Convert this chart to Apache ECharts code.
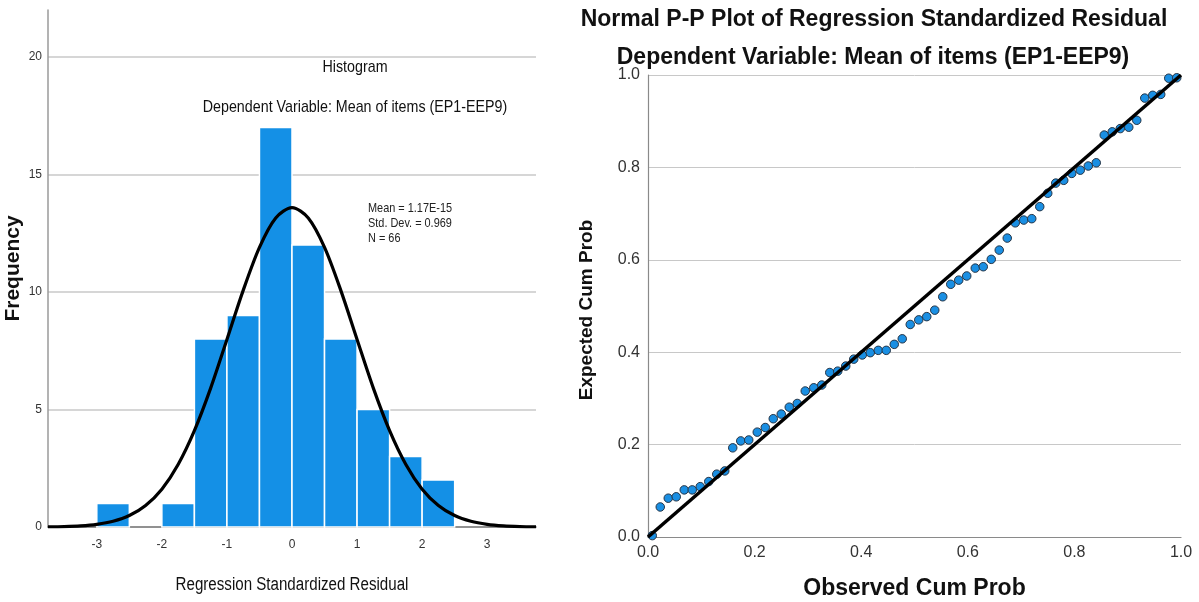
<!DOCTYPE html>
<html><head><meta charset="utf-8">
<script src="https://cdn.jsdelivr.net/npm/echarts@6/dist/echarts.min.js"></script>
<style>html,body{margin:0;padding:0;background:#fff}#c{width:1199px;height:602px}</style>
</head><body><div id="c"></div>
<script>
// ---------- Histogram data ----------
const binStarts = [-3, -2.5, -2, -1.5, -1, -0.5, 0, 0.5, 1, 1.5, 2];
const binWidth = 0.5;
const counts = [1, 0, 1, 8, 9, 17, 12, 8, 5, 3, 2];
// normal curve (Mean = 1.17E-15, Std. Dev. = 0.969, N = 66)
const curveX = [-3.75,-3.5,-3.25,-3,-2.75,-2.5,-2.25,-2,-1.75,-1.5,-1.25,-1,-0.75,-0.5,-0.25,0,
                0.25,0.5,0.75,1,1.25,1.5,1.75,2,2.25,2.5,2.75,3,3.25,3.5,3.75];
const curveY = [0.008,0.020,0.049,0.113,0.242,0.487,0.917,1.61,2.66,4.10,5.91,7.98,10.07,11.90,13.15,13.59,
                13.15,11.90,10.07,7.98,5.91,4.10,2.66,1.61,0.917,0.487,0.242,0.113,0.049,0.020,0.008];
const histXTicks = [-3, -2, -1, 0, 1, 2, 3];
const histYTicks = [0, 5, 10, 15, 20];
const statsLines = ['Mean = 1.17E-15', 'Std. Dev. = 0.969', 'N = 66'];

// ---------- P-P plot data ----------
const observedCumProb = [0.008,0.023,0.038,0.053,0.068,0.083,0.098,0.114,0.129,0.144,
  0.159,0.174,0.189,0.205,0.220,0.235,0.250,0.265,0.280,0.295,
  0.311,0.326,0.341,0.356,0.371,0.386,0.402,0.417,0.432,0.447,
  0.462,0.477,0.492,0.508,0.523,0.538,0.553,0.568,0.583,0.598,
  0.614,0.629,0.644,0.659,0.674,0.689,0.705,0.720,0.735,0.750,
  0.765,0.780,0.795,0.811,0.826,0.841,0.856,0.871,0.886,0.902,
  0.917,0.932,0.947,0.962,0.977,0.992];
const expectedCumProb = [0.003,0.065,0.084,0.087,0.102,0.102,0.109,0.120,0.136,0.143,
  0.193,0.208,0.210,0.227,0.237,0.256,0.266,0.281,0.289,0.316,
  0.323,0.329,0.356,0.359,0.370,0.385,0.394,0.399,0.404,0.404,
  0.417,0.429,0.460,0.470,0.477,0.491,0.520,0.547,0.556,0.565,
  0.582,0.585,0.601,0.621,0.647,0.680,0.686,0.689,0.715,0.744,
  0.766,0.772,0.787,0.794,0.803,0.810,0.870,0.877,0.884,0.887,
  0.902,0.950,0.956,0.958,0.993,0.994];
const refLine = [[0, 0], [1, 1]];

const SANS = "'Liberation Sans',Arial,sans-serif";
const NARROW_SCALE = 0.84;

const isTick = (v, ticks) => ticks.some(t => Math.abs(t - v) < 1e-9);

const chart = echarts.init(document.getElementById('c'), null, {renderer: 'canvas'});
const option = {
  animation: false,
  backgroundColor: '#fff',
  grid: [
    {left: 48, top: 10, width: 488, height: 517, outerBoundsMode: 'none', containLabel: false},
    {left: 648, top: 75, width: 533, height: 462, outerBoundsMode: 'none', containLabel: false}
  ],
  xAxis: [
    {
      gridIndex: 0, type: 'value', min: -3.75, max: 3.75, interval: 0.25,
      axisLine: {show: true, onZero: false, lineStyle: {color: '#6e6e6e', width: 1.5}},
      axisTick: {show: false}, splitLine: {show: false},
      axisLabel: {fontFamily: SANS, fontSize: 12, color: '#333', margin: 12,
        formatter: v => (isTick(v, histXTicks) ? String(Math.round(v)) : '')}
    },
    {
      gridIndex: 1, type: 'value', min: 0, max: 1, interval: 0.2,
      axisLine: {show: true, onZero: false, lineStyle: {color: '#8a8a8a', width: 1.2}},
      axisTick: {show: false}, splitLine: {show: false},
      axisLabel: {fontFamily: SANS, fontSize: 16, color: '#333', margin: 8,
        formatter: v => v.toFixed(1)},
      name: 'Observed Cum Prob', nameLocation: 'middle', nameGap: 40,
      nameTextStyle: {fontFamily: SANS, fontSize: 23, fontWeight: 'bold', color: '#111'}
    }
  ],
  yAxis: [
    {
      gridIndex: 0, type: 'value', min: 0, max: 22, interval: 5,
      axisLine: {show: true, onZero: false, lineStyle: {color: '#9a9a9a', width: 1.5}},
      axisTick: {show: false},
      splitLine: {show: true, showMinLine: false, showMaxLine: false, lineStyle: {color: '#d6d6d6', width: 2}},
      axisLabel: {fontFamily: SANS, fontSize: 12, color: '#333', margin: 6,
        formatter: v => (isTick(v, histYTicks) ? String(v) : '')},
      name: 'Frequency', nameLocation: 'middle', nameGap: 24, nameRotate: 90,
      nameTextStyle: {fontFamily: SANS, fontSize: 21, fontWeight: 'bold', color: '#111'}
    },
    {
      gridIndex: 1, type: 'value', min: 0, max: 1, interval: 0.2,
      axisLine: {show: true, onZero: false, lineStyle: {color: '#8a8a8a', width: 1.2}},
      axisTick: {show: false},
      splitLine: {show: true, showMinLine: false, lineStyle: {color: '#c8c8c8', width: 1}},
      axisLabel: {fontFamily: SANS, fontSize: 16, color: '#333', margin: 8,
        formatter: v => v.toFixed(1)}
    }
  ],
  series: [
    {
      type: 'custom', xAxisIndex: 0, yAxisIndex: 0, z: 2,
      data: binStarts.map((s, i) => [s, s + binWidth, counts[i]]),
      encode: {x: [0, 1], y: 2},
      renderItem: function (params, api) {
        if (api.value(2) <= 0) return null;
        const p0 = api.coord([api.value(0), api.value(2)]);
        const p1 = api.coord([api.value(1), 0]);
        return {type: 'rect',
          shape: {x: p0[0], y: p0[1], width: p1[0] - p0[0], height: p1[1] - p0[1]},
          style: {fill: '#1490e6', stroke: '#ffffff', lineWidth: 1.5}};
      }
    },
    {
      type: 'line', xAxisIndex: 0, yAxisIndex: 0, z: 4,
      data: curveX.map((x, i) => [x, curveY[i]]),
      smooth: 0.3, showSymbol: false, symbol: 'none',
      lineStyle: {color: '#000', width: 3.2}
    },
    {
      type: 'scatter', xAxisIndex: 1, yAxisIndex: 1, z: 3,
      data: observedCumProb.map((x, i) => [x, expectedCumProb[i]]),
      symbol: 'circle', symbolSize: 8.5,
      itemStyle: {color: '#1a8fe3', borderColor: '#253445', borderWidth: 1, opacity: 1}
    },
    {
      type: 'line', xAxisIndex: 1, yAxisIndex: 1, z: 4,
      data: refLine, showSymbol: false, symbol: 'none',
      lineStyle: {color: '#000', width: 3.5}
    }
  ],
  graphic: [
    {type: 'text', x: 355, y: 67, scaleX: NARROW_SCALE, silent: true,
     style: {text: 'Histogram', font: '17px ' + SANS, fill: '#111', align: 'center', verticalAlign: 'middle'}},
    {type: 'text', x: 355, y: 107, scaleX: NARROW_SCALE, silent: true,
     style: {text: 'Dependent Variable: Mean of items (EP1-EEP9)', font: '17px ' + SANS, fill: '#111', align: 'center', verticalAlign: 'middle'}},
    {type: 'text', x: 368, y: 201, scaleX: NARROW_SCALE, silent: true,
     style: {text: statsLines.join('\n'), font: '13px ' + SANS, lineHeight: 15, fill: '#222', align: 'left', verticalAlign: 'top'}},
    {type: 'text', x: 292, y: 585, scaleX: NARROW_SCALE, silent: true,
     style: {text: 'Regression Standardized Residual', font: '18px ' + SANS, fill: '#111', align: 'center', verticalAlign: 'middle'}},
    {type: 'text', x: 874, y: 20, silent: true,
     style: {text: 'Normal P-P Plot of Regression Standardized Residual', font: 'bold 23px ' + SANS, fill: '#111', align: 'center', verticalAlign: 'middle'}},
    {type: 'text', x: 873, y: 58, silent: true,
     style: {text: 'Dependent Variable: Mean of items (EP1-EEP9)', font: 'bold 23px ' + SANS, fill: '#111', align: 'center', verticalAlign: 'middle'}},
    {type: 'text', x: 587, y: 310, rotation: Math.PI / 2, silent: true,
     style: {text: 'Expected Cum Prob', font: 'bold 19px ' + SANS, fill: '#111', align: 'center', verticalAlign: 'middle'}}
  ]
};
chart.setOption(option);
</script></body></html>
